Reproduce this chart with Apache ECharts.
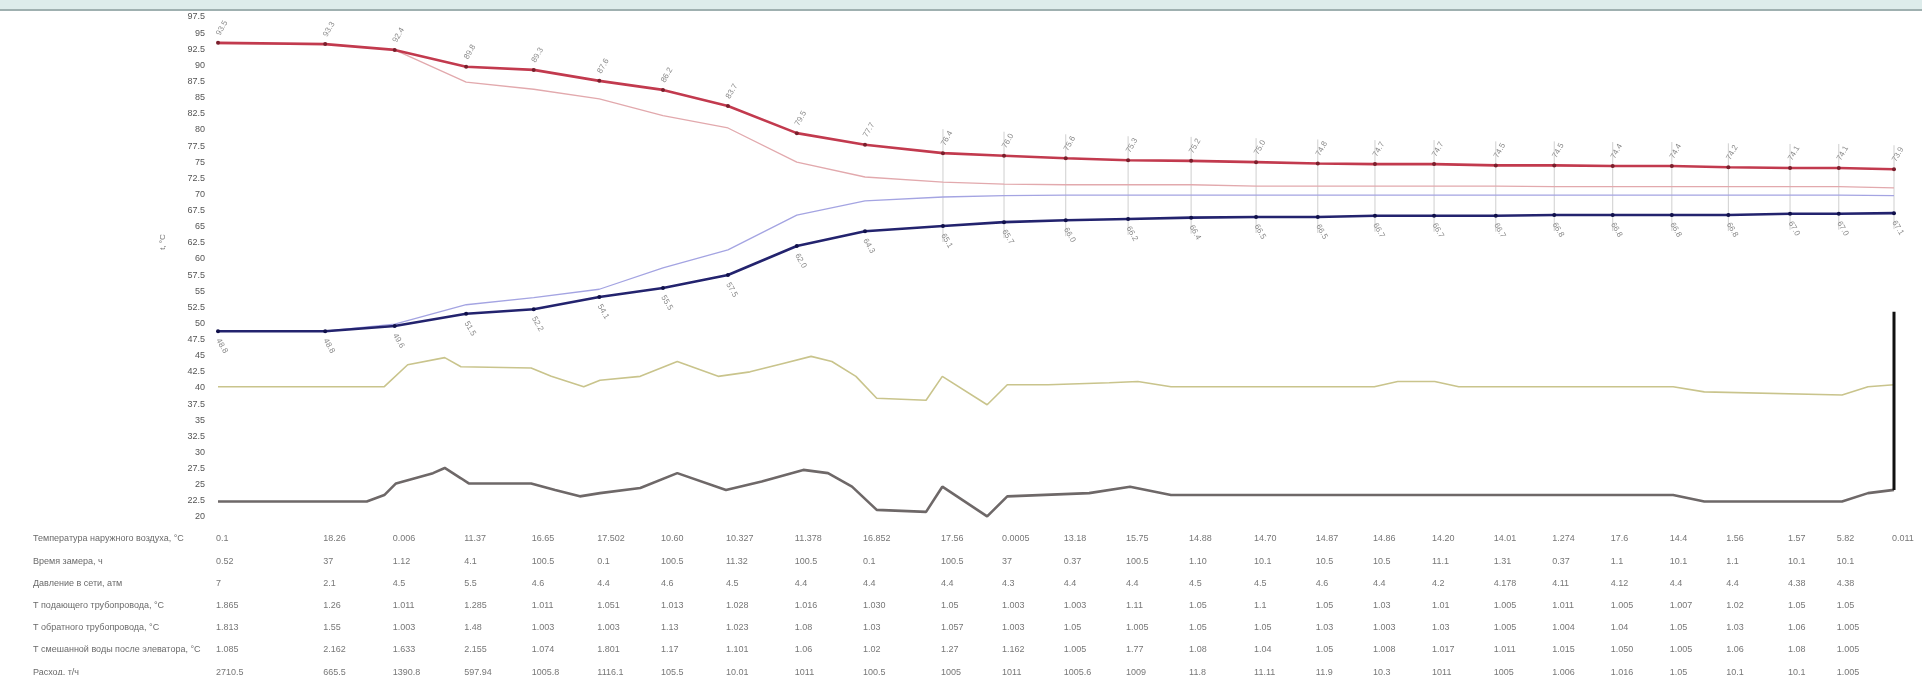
<!DOCTYPE html>
<html>
<head>
<meta charset="utf-8">
<script src="https://cdn.jsdelivr.net/npm/echarts@6/dist/echarts.min.js"></script>
<style>
html, body { margin: 0; padding: 0; background: #fff; }
#chart { width: 1922px; height: 675px; }
</style>
</head>
<body>
<div id="chart"></div>
<script>
// measurement times (hours) of the main points
const times = [0, 1.65, 2.72, 3.82, 4.86, 5.87, 6.85, 7.85, 8.91, 9.96, 11.16, 12.10, 13.05, 14.01, 14.98, 15.98, 16.93, 17.81, 18.72, 19.67, 20.57, 21.47, 22.38, 23.25, 24.2, 24.95, 25.8];

const hot = [93.5, 93.3, 92.4, 89.8, 89.3, 87.6, 86.2, 83.7, 79.5, 77.7, 76.4, 76.0, 75.6, 75.3, 75.2, 75.0, 74.8, 74.7, 74.7, 74.5, 74.5, 74.4, 74.4, 74.2, 74.1, 74.1, 73.9];
const hotThin = [93.3, 93.3, 92.4, 87.4, 86.3, 84.8, 82.2, 80.3, 75.0, 72.7, 71.9, 71.6, 71.5, 71.5, 71.5, 71.3, 71.3, 71.3, 71.3, 71.3, 71.2, 71.2, 71.2, 71.2, 71.2, 71.2, 71.0];
const cold = [48.8, 48.8, 49.6, 51.5, 52.2, 54.1, 55.5, 57.5, 62.0, 64.3, 65.1, 65.7, 66.0, 66.2, 66.4, 66.5, 66.5, 66.7, 66.7, 66.7, 66.8, 66.8, 66.8, 66.8, 67.0, 67.0, 67.1];
const coldThin = [48.8, 48.8, 49.9, 52.9, 54.0, 55.3, 58.6, 61.4, 66.8, 69.0, 69.6, 69.8, 69.9, 69.9, 69.9, 69.9, 69.9, 69.9, 69.9, 69.9, 69.9, 69.9, 69.9, 69.9, 69.9, 69.9, 69.8];

const yellowT = [0, 2.56, 2.92, 3.49, 3.74, 4.82, 5.13, 5.63, 5.88, 6.5, 7.07, 7.7, 8.19, 8.7, 9.13, 9.45, 9.82, 10.14, 10.9, 11.15, 11.84, 12.15, 12.78, 13.72, 14.16, 14.67, 17.8, 18.16, 18.73, 19.1, 22.4, 22.88, 25.0, 25.4, 25.8];
const yellowV = [40.2, 40.2, 43.6, 44.7, 43.3, 43.1, 41.8, 40.2, 41.2, 41.8, 44.1, 41.8, 42.5, 43.8, 44.9, 44.1, 41.8, 38.4, 38.1, 41.8, 37.4, 40.5, 40.5, 40.8, 41.0, 40.2, 40.2, 41.0, 41.0, 40.2, 40.2, 39.4, 38.9, 40.2, 40.5];

const grayT = [0, 2.29, 2.56, 2.74, 3.31, 3.49, 3.74, 3.86, 4.82, 5.19, 5.57, 5.88, 6.5, 7.07, 7.82, 8.37, 9.01, 9.39, 9.76, 10.14, 10.9, 11.15, 11.84, 12.15, 13.41, 14.04, 14.67, 22.4, 22.88, 25.0, 25.4, 25.8];
const grayV = [22.4, 22.4, 23.4, 25.2, 26.8, 27.6, 26.0, 25.2, 25.2, 24.2, 23.2, 23.7, 24.5, 26.8, 24.2, 25.5, 27.3, 26.8, 24.7, 21.1, 20.8, 24.7, 20.1, 23.2, 23.7, 24.7, 23.4, 23.4, 22.4, 22.4, 23.7, 24.2];

const spikeT = [25.8, 25.8];
const spikeV = [24.2, 51.8];

const yMin = 20, yMax = 97.5, yStep = 2.5;
const yName = 't, °С';

const rowNames = [
    'Температура наружного воздуха, °С',
    'Время замера, ч',
    'Давление в сети, атм',
    'Т подающего трубопровода, °С',
    'Т обратного трубопровода, °С',
    'Т смешанной воды после элеватора, °С',
    'Расход, т/ч'
];
const row1 = ['0.1','18.26','0.006','11.37','16.65','17.502','10.60','10.327','11.378','16.852','17.56','0.0005','13.18','15.75','14.88','14.70','14.87','14.86','14.20','14.01','1.274','17.6','14.4','1.56','1.57','5.82','0.011'];
const row2 = ['0.52','37','1.12','4.1','100.5','0.1','100.5','11.32','100.5','0.1','100.5','37','0.37','100.5','1.10','10.1','10.5','10.5','11.1','1.31','0.37','1.1','10.1','1.1','10.1','10.1'];
const row3 = ['7','2.1','4.5','5.5','4.6','4.4','4.6','4.5','4.4','4.4','4.4','4.3','4.4','4.4','4.5','4.5','4.6','4.4','4.2','4.178','4.11','4.12','4.4','4.4','4.38','4.38'];
const row4 = ['1.865','1.26','1.011','1.285','1.011','1.051','1.013','1.028','1.016','1.030','1.05','1.003','1.003','1.11','1.05','1.1','1.05','1.03','1.01','1.005','1.011','1.005','1.007','1.02','1.05','1.05'];
const row5 = ['1.813','1.55','1.003','1.48','1.003','1.003','1.13','1.023','1.08','1.03','1.057','1.003','1.05','1.005','1.05','1.05','1.03','1.003','1.03','1.005','1.004','1.04','1.05','1.03','1.06','1.005'];
const row6 = ['1.085','2.162','1.633','2.155','1.074','1.801','1.17','1.101','1.06','1.02','1.27','1.162','1.005','1.77','1.08','1.04','1.05','1.008','1.017','1.011','1.015','1.050','1.005','1.06','1.08','1.005'];
const row7 = ['2710.5','665.5','1390.8','597.94','1005.8','1116.1','105.5','10.01','1011','100.5','1005','1011','1005.6','1009','11.8','11.11','11.9','10.3','1011','1005','1.006','1.016','1.05','10.1','10.1','1.005'];
const tableRows = [row1, row2, row3, row4, row5, row6, row7];

const pairs = (xs, ys) => xs.map((x, i) => [x, ys[i]]);
const font = '"Liberation Sans", Arial, sans-serif';

const chart = echarts.init(document.getElementById('chart'));

chart.setOption({
    animation: false,
    backgroundColor: '#fff',
    grid: { left: 218, right: 28, top: 17, bottom: 158 },
    xAxis: {
        type: 'value',
        min: 0,
        max: 25.8,
        show: false
    },
    yAxis: {
        type: 'value',
        min: yMin,
        max: yMax,
        interval: yStep,
        axisLine: { show: false },
        axisTick: { show: false },
        splitLine: { show: false },
        axisLabel: { fontSize: 9, color: '#555', margin: 13, fontFamily: font }
    },
    series: [
        {
            // high-low connectors on the flat part
            type: 'custom',
            silent: true,
            data: times.map((t, i) => [t, hot[i], cold[i]]).slice(10),
            renderItem: function (params, api) {
                const x = api.value(0);
                const p1 = api.coord([x, api.value(1)]);
                const p2 = api.coord([x, api.value(2)]);
                return {
                    type: 'line',
                    shape: { x1: p1[0], y1: p1[1] - 24, x2: p2[0], y2: p2[1] + 16 },
                    style: { stroke: '#cfcfcf', lineWidth: 1 }
                };
            },
            z: 1
        },
        {
            type: 'line',
            data: pairs(times, hotThin),
            symbol: 'none',
            lineStyle: { color: '#e2a9ad', width: 1.3 },
            z: 2
        },
        {
            type: 'line',
            data: pairs(times, coldThin),
            symbol: 'none',
            lineStyle: { color: '#a4a4e2', width: 1.3 },
            z: 2
        },
        {
            type: 'line',
            data: pairs(yellowT, yellowV),
            symbol: 'none',
            lineStyle: { color: '#c9c48c', width: 1.6 },
            z: 2
        },
        {
            type: 'line',
            data: pairs(grayT, grayV),
            symbol: 'none',
            lineStyle: { color: '#6e6868', width: 2.6 },
            z: 3
        },
        {
            type: 'line',
            data: pairs(spikeT, spikeV),
            symbol: 'none',
            lineStyle: { color: '#111', width: 3 },
            z: 4
        },
        {
            type: 'line',
            data: pairs(times, hot),
            symbol: 'circle',
            symbolSize: 4,
            itemStyle: { color: '#7a1f2c' },
            lineStyle: { color: '#c23a4e', width: 2.6 },
            label: {
                show: true,
                position: 'top',
                distance: 6,
                rotate: 60,
                align: 'left',
                verticalAlign: 'middle',
                fontSize: 8,
                color: '#8a8a8a',
                fontFamily: font,
                formatter: p => p.value[1].toFixed(1)
            },
            z: 5
        },
        {
            type: 'line',
            data: pairs(times, cold),
            symbol: 'circle',
            symbolSize: 4,
            itemStyle: { color: '#10104a' },
            lineStyle: { color: '#23236e', width: 2.6 },
            label: {
                show: true,
                position: 'bottom',
                distance: 6,
                rotate: -60,
                align: 'left',
                verticalAlign: 'middle',
                fontSize: 8,
                color: '#8a8a8a',
                fontFamily: font,
                formatter: p => p.value[1].toFixed(1)
            },
            z: 5
        }
    ]
});

// data table under the plot, columns placed through the x axis
const tableTop = 539, rowGap = 22.2;
const graphics = [
    { type: 'rect', shape: { x: 0, y: 0, width: 1922, height: 9 }, style: { fill: '#ddeceb' } },
    { type: 'rect', shape: { x: 0, y: 9, width: 1922, height: 2 }, style: { fill: '#9fb0b0' } },
    {
        type: 'text', x: 163, y: 242, rotation: Math.PI / 2,
        style: { text: yName, fill: '#777', font: '8px ' + font, align: 'center', verticalAlign: 'middle' }
    }
];
rowNames.forEach((name, r) => {
    const y = tableTop + r * rowGap;
    graphics.push({
        type: 'text', x: 33, y: y,
        style: { text: name, fill: '#6a6a6a', font: '9px ' + font, align: 'left', verticalAlign: 'middle' }
    });
    tableRows[r].forEach((val, c) => {
        const px = chart.convertToPixel({ xAxisIndex: 0 }, times[c]);
        graphics.push({
            type: 'text', x: px - 2, y: y,
            style: { text: val, fill: '#777', font: '9px ' + font, align: 'left', verticalAlign: 'middle' }
        });
    });
});
chart.setOption({ graphic: graphics });

window.addEventListener('resize', function () {
    chart.resize();
});
</script>
</body>
</html>
